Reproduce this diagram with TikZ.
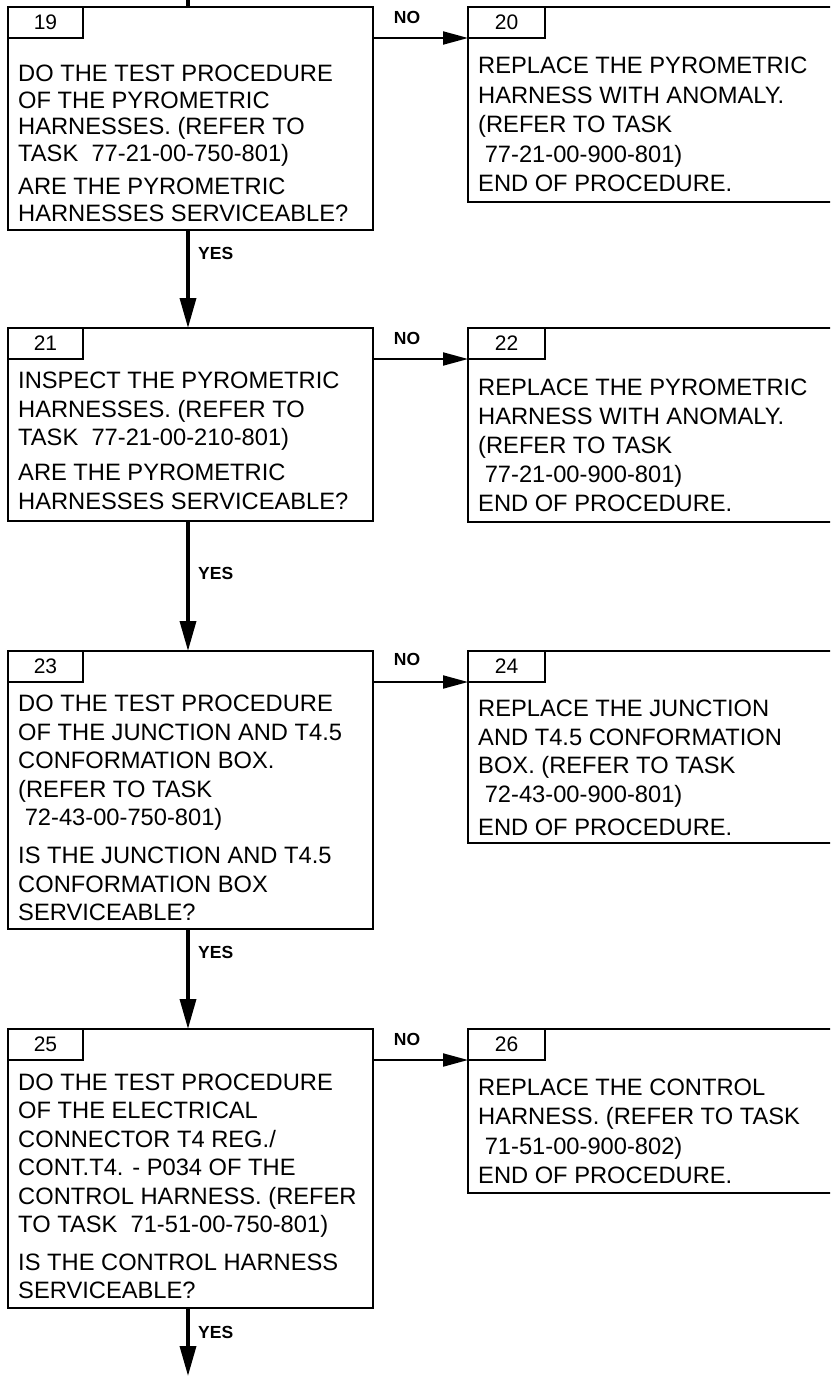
\documentclass[tikz,border=0pt]{standalone}
\usepackage{fontspec}
\setmainfont{Liberation Sans}
\usetikzlibrary{arrows.meta}
\tikzset{
  mainbox/.style={draw, line width=2pt, rectangle, inner sep=0pt, outer sep=0pt, anchor=north west, minimum width=365pt},
  sidebox/.style={draw, line width=2pt, rectangle, inner sep=0pt, outer sep=0pt, anchor=north west, minimum width=372pt},
  tabbox/.style={draw, line width=2pt, rectangle, inner sep=0pt, outer sep=0pt, anchor=north west, minimum height=31pt, font=\fontsize{21}{21}\selectfont},
  txt/.style={anchor=base west, inner sep=0pt, align=left, font=\fontsize{23.7}{28.5}\selectfont},
  lbl/.style={inner sep=0pt, font=\bfseries\fontsize{17.5}{17.5}\selectfont},
  yesarrow/.style={line width=3.5pt, -{Triangle[length=30pt,width=16pt]}},
  noarrow/.style={line width=2pt, -{Triangle[length=25pt,width=13pt]}},
}
\begin{document}
\begin{tikzpicture}[x=1pt,y=-1pt]
\clip (0,0) rectangle (830,1376);
% ---------- boxes ----------
\node[mainbox, minimum height=223pt] (b19) at (8,7) {};
\node[tabbox, minimum width=75pt] (n19) at (b19.north west) {19};
\node[sidebox, minimum height=195pt] (b20) at (468,7) {};
\node[tabbox, minimum width=77pt] (n20) at (b20.north west) {20};

\node[mainbox, minimum height=193pt] (b21) at (8,328) {};
\node[tabbox, minimum width=75pt] (n21) at (b21.north west) {21};
\node[sidebox, minimum height=194pt] (b22) at (468,328) {};
\node[tabbox, minimum width=77pt] (n22) at (b22.north west) {22};

\node[mainbox, minimum height=278pt] (b23) at (8,651) {};
\node[tabbox, minimum width=75pt] (n23) at (b23.north west) {23};
\node[sidebox, minimum height=192pt] (b24) at (468,651) {};
\node[tabbox, minimum width=77pt] (n24) at (b24.north west) {24};

\node[mainbox, minimum height=279pt] (b25) at (8,1029) {};
\node[tabbox, minimum width=75pt] (n25) at (b25.north west) {25};
\node[sidebox, minimum height=164pt] (b26) at (468,1029) {};
\node[tabbox, minimum width=77pt] (n26) at (b26.north west) {26};

% ---------- texts (anchored at the baseline of their last line) ----------
\node[txt, font=\fontsize{23.7}{26.5}\selectfont] (t19) at (18,221) {DO THE TEST PROCEDURE\\OF THE PYROMETRIC\\HARNESSES. (REFER TO\\TASK\ \ 77-21-00-750-801)\\[7pt]ARE THE PYROMETRIC\\HARNESSES SERVICEABLE?};
\node[txt, font=\fontsize{23.7}{29.5}\selectfont] (t20) at (478,191.5) {REPLACE THE PYROMETRIC\\HARNESS WITH ANOMALY.\\(REFER TO TASK\\\ 77-21-00-900-801)\\END OF PROCEDURE.};

\node[txt] (t21) at (18,509) {INSPECT THE PYROMETRIC\\HARNESSES. (REFER TO\\TASK\ \ 77-21-00-210-801)\\[6.5pt]ARE THE PYROMETRIC\\HARNESSES SERVICEABLE?};
\node[txt, font=\fontsize{23.7}{29}\selectfont] (t22) at (478,511.5) {REPLACE THE PYROMETRIC\\HARNESS WITH ANOMALY.\\(REFER TO TASK\\\ 77-21-00-900-801)\\END OF PROCEDURE.};

\node[txt] (t23) at (18,920.5) {DO THE TEST PROCEDURE\\OF THE JUNCTION AND T4.5\\CONFORMATION BOX.\\(REFER TO TASK\\\ 72-43-00-750-801)\\[9.5pt]IS THE JUNCTION AND T4.5\\CONFORMATION BOX\\SERVICEABLE?};
\node[txt] (t24) at (478,835.5) {REPLACE THE JUNCTION\\AND T4.5 CONFORMATION\\BOX. (REFER TO TASK\\\ 72-43-00-900-801)\\[5pt]END OF PROCEDURE.};

\node[txt] (t25) at (18,1298.5) {DO THE TEST PROCEDURE\\OF THE ELECTRICAL\\CONNECTOR T4 REG./\\CONT.T4. - P034 OF THE\\CONTROL HARNESS. (REFER\\TO TASK\ \ 71-51-00-750-801)\\[9pt]IS THE CONTROL HARNESS\\SERVICEABLE?};
\node[txt, font=\fontsize{23.7}{29.5}\selectfont] (t26) at (478,1183.5) {REPLACE THE CONTROL\\HARNESS. (REFER TO TASK\\\ 71-51-00-900-802)\\END OF PROCEDURE.};

% ---------- connectors ----------
\coordinate (in) at (188,0);
\draw[line width=3.5pt] (in) -- (in |- b19.north);
\draw[yesarrow] ([xshift=-2.5pt]b19.south) -- ([xshift=-2.5pt]b21.north);
\draw[yesarrow] ([xshift=-2.5pt]b21.south) -- ([xshift=-2.5pt]b23.north);
\draw[yesarrow] ([xshift=-2.5pt]b23.south) -- ([xshift=-2.5pt]b25.north);
\coordinate (out) at (188,1376);
\draw[yesarrow] ([xshift=-2.5pt]b25.south) -- (out);

\draw[noarrow] (b19.east |- n20.south west) -- (n20.south west);
\draw[noarrow] (b21.east |- n22.south west) -- (n22.south west);
\draw[noarrow] (b23.east |- n24.south west) -- (n24.south west);
\draw[noarrow] (b25.east |- n26.south west) -- (n26.south west);

% ---------- labels ----------
\node[lbl] (no1) at (407,17) {NO};
\node[lbl] (no2) at (407,338) {NO};
\node[lbl] (no3) at (407,659) {NO};
\node[lbl] (no4) at (407,1039) {NO};
\node[lbl, anchor=west] (yes1) at (198,253) {YES};
\node[lbl, anchor=west] (yes2) at (198,573) {YES};
\node[lbl, anchor=west] (yes3) at (198,952) {YES};
\node[lbl, anchor=west] (yes4) at (198,1332) {YES};
\end{tikzpicture}
\end{document}
